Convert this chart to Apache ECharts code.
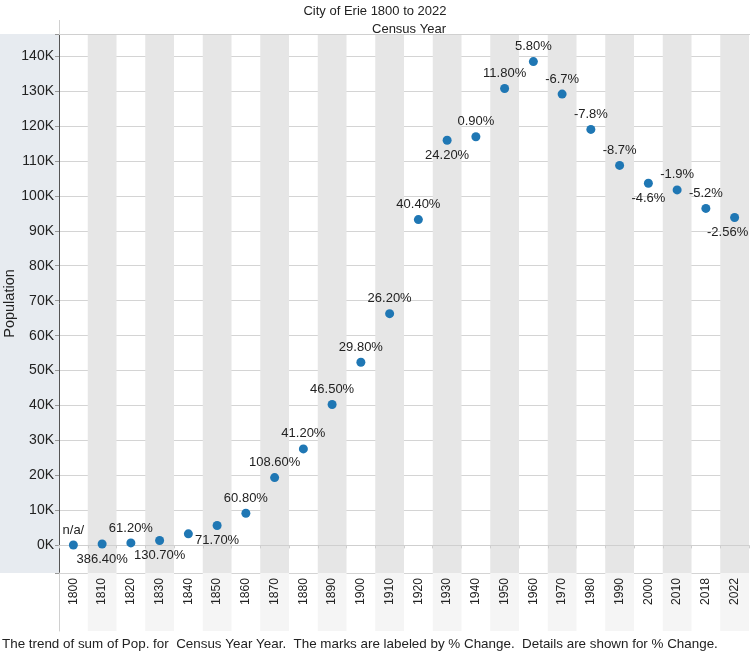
<!DOCTYPE html>
<html>
<head>
<meta charset="utf-8">
<script src="https://cdn.jsdelivr.net/npm/echarts@6/dist/echarts.min.js"></script>
<style>
html,body{margin:0;padding:0;background:#fff;}
#chart{width:750px;height:655px;}
</style>
</head>
<body>
<div id="chart"></div>
<script>
// ---- data ----
const years = ['1800','1810','1820','1830','1840','1850','1860','1870','1880','1890','1900','1910','1920','1930','1940','1950','1960','1970','1980','1990','2000','2010','2018','2022'];
const population = [100, 400, 700, 1400, 3300, 5700, 9200, 19400, 27600, 40300, 52400, 66300, 93200, 115900, 116900, 130700, 138400, 129100, 119000, 108700, 103600, 101700, 96400, 93800];
const pctLabels = ['n/a/','386.40%','61.20%','130.70%','','71.70%','60.80%','108.60%','41.20%','46.50%','29.80%','26.20%','40.40%','24.20%','0.90%','11.80%','5.80%','-6.7%','-7.8%','-8.7%','-4.6%','-1.9%','-5.2%','-2.56%'];
// label placement (style)
const labelSide = ['top','bottom','top','bottom','top','bottom','top','top','top','top','top','top','top','bottom','top','top','top','top','top','top','bottom','top','top','bottom'];

const FONT = "'Liberation Sans', Arial, sans-serif";
const chart = echarts.init(document.getElementById('chart'));

const splitColors = [];
for (let i = 0; i < 17; i++) splitColors.push(i === 1 ? 'rgba(0,0,0,0)' : '#d4d4d4');

const seriesData = population.map((v, i) => ({
  value: v,
  label: {
    position: labelSide[i],
    offset: i === years.length - 1 ? [-7, 0] : [0, 0]
  }
}));

chart.setOption({
  animation: false,
  backgroundColor: '#fff',
  textStyle: { fontFamily: FONT },
  title: [
    { text: 'City of Erie 1800 to 2022', left: 'center', top: 0,
      textStyle: { fontSize: 13, fontWeight: 'normal', color: '#222', fontFamily: FONT } },
    { text: 'Census Year', left: 404, textAlign: 'center', top: 18,
      textStyle: { fontSize: 13, fontWeight: 'normal', color: '#222', fontFamily: FONT } },
    { text: 'The trend of sum of Pop. for  Census Year Year.  The marks are labeled by % Change.  Details are shown for % Change.',
      left: -3, top: 633,
      textStyle: { fontSize: 13.4, fontWeight: 'normal', color: '#222', fontFamily: FONT } }
  ],
  graphic: [
    { type: 'rect', shape: { x: 0, y: 34, width: 59, height: 539 }, style: { fill: '#e7ebf0' }, z: -10 },
    { type: 'line', shape: { x1: 59, y1: 34.5, x2: 750, y2: 34.5 }, style: { stroke: '#d0d0d0', lineWidth: 1 }, z: 10 },
    { type: 'line', shape: { x1: 59.5, y1: 20, x2: 59.5, y2: 34 }, style: { stroke: '#d0d0d0', lineWidth: 1 }, z: 10 }
  ],
  grid: [
    { left: 59, right: 1, top: 34, bottom: 82, containLabel: false, outerBoundsMode: 'none' },
    { left: 59, right: 1, top: 573, height: 58, containLabel: false, outerBoundsMode: 'none' }
  ],
  xAxis: [
    {
      type: 'category', gridIndex: 0, data: years, z: 5,
      axisLine: { show: true, lineStyle: { color: '#cfcfcf', width: 1 } },
      axisTick: { show: true, length: 3, interval: 0, lineStyle: { color: '#cfcfcf' } },
      axisLabel: { rotate: 90, fontSize: 12.2, color: '#222', margin: 5, fontFamily: FONT, interval: 0 },
      splitArea: { show: true, interval: 0, areaStyle: { color: ['rgba(255,255,255,0)', '#e6e6e6'] } },
      splitLine: { show: false }
    },
    {
      type: 'category', gridIndex: 1, data: years, z: 0,
      axisLine: { show: false }, axisTick: { show: false, interval: 0 }, axisLabel: { show: false, interval: 0 },
      splitArea: { show: true, interval: 0, areaStyle: { color: ['rgba(255,255,255,0)', '#f5f5f5'] } },
      splitLine: { show: false }
    }
  ],
  yAxis: [
    {
      type: 'value', gridIndex: 0, min: -7900, max: 146300, splitNumber: 15,
      name: 'Population', nameLocation: 'middle', nameGap: 42, nameMoveOverlap: false,
      nameTextStyle: { fontSize: 14.5, color: '#222', fontFamily: FONT },
      axisLine: { show: true, lineStyle: { color: '#555', width: 1 } },
      axisTick: { show: true, length: 4, lineStyle: { color: '#999' } },
      axisLabel: {
        fontSize: 14, color: '#222', margin: 5, fontFamily: FONT,
        showMinLabel: true, showMaxLabel: true,
        formatter: v => (Math.abs(v % 10000) < 1e-6 ? (v / 1000) + 'K' : '')
      },
      splitLine: { show: true, lineStyle: { color: splitColors, width: 1 } }
    },
    {
      type: 'value', gridIndex: 1, min: 0, max: 1,
      axisLine: { show: true, lineStyle: { color: '#d0d0d0' } },
      axisTick: { show: false }, axisLabel: { show: false }, splitLine: { show: false }
    }
  ],
  series: [
    {
      type: 'scatter', xAxisIndex: 0, yAxisIndex: 0,
      data: seriesData,
      symbol: 'circle', symbolSize: 9,
      itemStyle: { color: '#1f77b4', opacity: 1 },
      label: {
        show: true, distance: 4, fontSize: 13, color: '#222', fontFamily: FONT,
        formatter: p => pctLabels[p.dataIndex]
      },
      markLine: {
        silent: true, symbol: 'none', label: { show: false },
        lineStyle: { type: 'dotted', color: '#bbbbbb', width: 1 },
        data: [{ yAxis: 0 }]
      },
      z: 5
    }
  ]
});
</script>
</body>
</html>
